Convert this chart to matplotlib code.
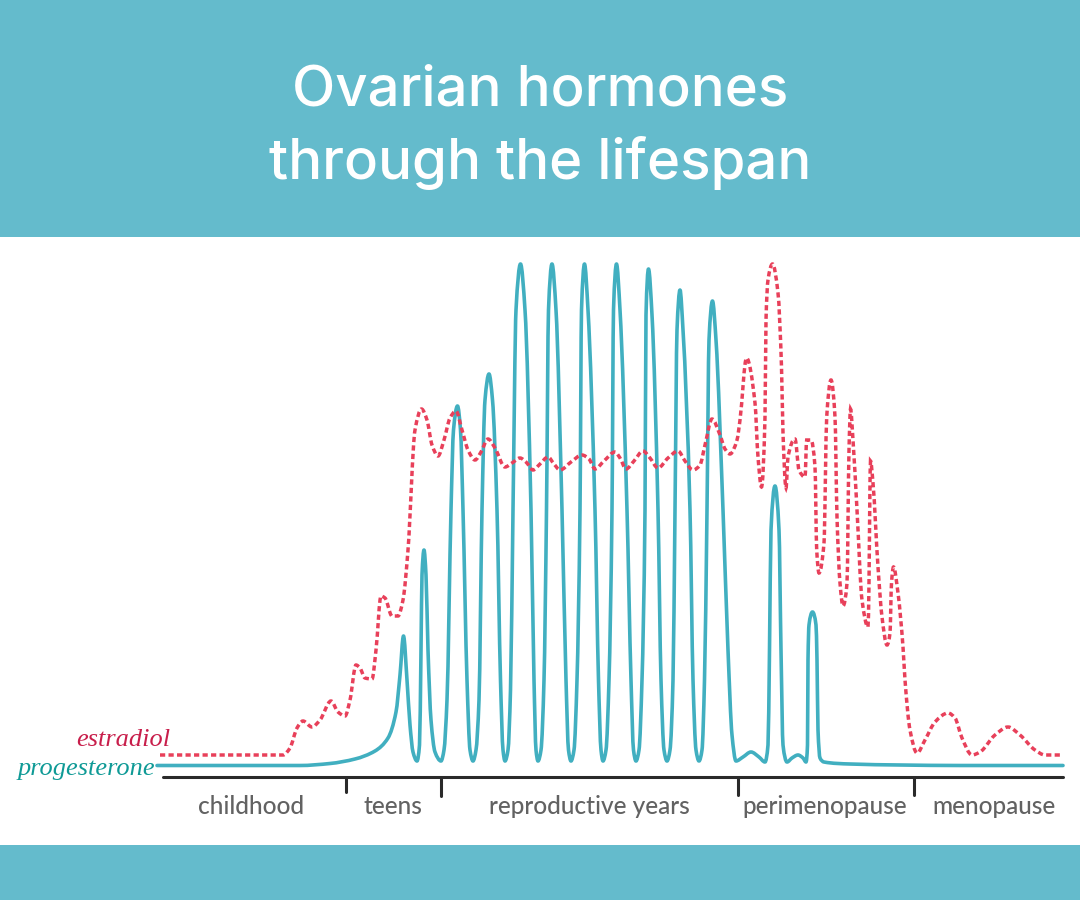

import matplotlib
matplotlib.use("Agg")
import matplotlib.pyplot as plt
import numpy as np
from matplotlib.patches import PathPatch, Rectangle
from matplotlib.path import Path

BAND = "#64BBCC"
TEAL = "#41AFC0"
RED = "#E8405A"

TITLE_LINES = ["Ovarian hormones", "through the lifespan"]
STAGES = ["childhood", "teens", "reproductive years", "perimenopause", "menopause"]
STAGE_X = [251, 393, 589, 825, 994]
STAGE_TICKS = [346, 441, 738, 914]
STAGE_TICK_END = [792, 796, 795, 795]

PROG_X = [157, 300, 330, 355, 375, 388, 396, 400, 403.5, 407, 410, 413, 417,
          419.5, 421, 422, 424, 426, 428, 431, 435, 441,
          444, 447, 451, 453.5, 457.5, 460.5, 463, 467, 470, 473,
          476, 479, 482, 485, 489, 492.5, 497, 500.5, 503, 505,
          508, 510.5, 513, 516, 520.5, 525, 531, 534, 536, 538,
          541, 544, 546.5, 548.5, 552, 556, 562, 566, 568.5, 571,
          574, 577, 580, 581.5, 584.5, 588, 595, 598.5, 601, 603,
          606, 609, 612, 613.5, 616.5, 620, 627, 631, 633.5, 636,
          639, 642, 645, 646, 648.5, 652, 658, 661, 664, 667,
          670, 673, 675, 677, 680, 683, 690, 693, 696, 699,
          702, 704.5, 707, 709, 712.5, 716, 723, 728, 732, 736,
          743, 751, 759, 765,
          768, 769.5, 771, 775, 779, 781, 783, 787,
          792, 798, 803, 806,
          807.5, 808, 809, 812.5, 816, 817, 818, 820, 824,
          850, 900, 960, 1063]
PROG_Y = [765.5, 765.5, 763.5, 759, 751, 738, 712, 675, 636, 680, 725, 752, 761,
          745, 650, 575, 550, 575, 650, 720, 752, 761,
          750, 700, 510, 430, 406, 430, 510, 680, 750, 761,
          750, 700, 510, 400, 374, 400, 510, 680, 750, 761,
          750, 690, 510, 310, 264, 310, 510, 680, 750, 761,
          750, 680, 510, 310, 264, 310, 510, 680, 750, 761,
          750, 680, 510, 310, 264, 310, 510, 680, 750, 761,
          750, 680, 510, 310, 264, 310, 510, 680, 750, 761,
          750, 680, 510, 315, 269, 315, 510, 680, 750, 761,
          750, 680, 510, 330, 290, 330, 510, 680, 750, 761,
          750, 680, 510, 340, 301, 340, 510, 650, 735, 761,
          757, 752, 757, 762,
          745, 650, 530, 486, 530, 650, 745, 762,
          758, 755, 758, 762,
          745, 660, 625, 612, 625, 660, 730, 758, 762,
          764, 765, 765.5, 765.5]

ESTR_X = [160, 283, 290, 297, 303, 312, 320, 331, 338, 345, 350, 356, 360, 365, 372,
          376, 381, 385, 392, 398, 403, 408, 415, 421.5, 427, 432, 438,
          444, 450, 456, 462, 468, 475, 481, 488, 495, 505, 512, 520, 526, 533,
          540, 548, 554, 560, 571, 582, 589, 595, 604, 615, 620, 626, 634, 643,
          650, 658, 668, 678, 685, 693, 700, 705, 712, 720, 725, 730,
          737, 740, 746.5, 755, 758, 761.5, 765, 766, 768, 772.5, 778, 781.5, 783,
          786, 788, 795, 799, 805, 806.7, 811, 815, 816.7, 819,
          824, 826.7, 831, 835, 837, 840, 843, 847, 849, 850.5, 853, 857, 862, 868,
          869, 869.8, 870.5, 873, 878, 882, 887, 890, 891.5, 893.5, 898, 903,
          905, 910, 917, 925, 935, 948, 955, 962, 972, 980, 995, 1008, 1020, 1035, 1045, 1063]
ESTR_Y = [755, 755, 748, 728, 721, 727, 720, 701, 712, 716, 700, 665, 668, 678, 679,
          650, 596, 598, 616, 616, 600, 550, 430, 409, 420, 445, 456,
          440, 418, 411, 430, 450, 460, 452, 439, 448, 467, 463, 458, 462, 470,
          464, 457, 464, 470, 462, 455, 459, 469, 461, 452, 458, 469, 461, 451,
          458, 468, 458, 451, 461, 470, 465, 445, 419, 435, 449, 454,
          440, 420, 358, 403, 457, 487, 417, 320, 280, 264, 293, 367, 433,
          488, 457, 439, 470, 477, 440, 440, 467, 550, 573,
          543, 417, 380, 417, 517, 583, 606, 583, 450, 409, 440, 510, 600, 627,
          583, 500, 461, 483, 567, 617, 645, 633, 583, 567, 593, 647,
          680, 730, 753, 740, 722, 713, 718, 738, 755, 752, 735, 727, 735, 750, 755, 755]


def smooth_path(xs, ys):
    # monotone cubic through the knots, written as Bezier segments so no overshoot
    x = np.asarray(xs, float)
    y = np.asarray(ys, float)
    h = np.diff(x)
    d = np.diff(y) / h
    m = np.zeros_like(x)
    for i in range(1, len(x) - 1):
        if d[i - 1] * d[i] > 0:
            w1, w2 = 2 * h[i] + h[i - 1], h[i] + 2 * h[i - 1]
            m[i] = (w1 + w2) / (w1 / d[i - 1] + w2 / d[i])
    verts = [(x[0], y[0])]
    codes = [Path.MOVETO]
    for i in range(len(x) - 1):
        verts += [(x[i] + h[i] / 3, y[i] + m[i] * h[i] / 3),
                  (x[i + 1] - h[i] / 3, y[i + 1] - m[i + 1] * h[i] / 3),
                  (x[i + 1], y[i + 1])]
        codes += [Path.CURVE4] * 3
    return Path(verts, codes)


def main():
    fig = plt.figure(figsize=(10.8, 9), dpi=100, facecolor="white")
    ax = fig.add_axes([0, 0, 1, 1])
    ax.set_xlim(0, 1080)
    ax.set_ylim(900, 0)
    ax.axis("off")

    ax.add_patch(Rectangle((0, 0), 1080, 237, color=BAND, lw=0))
    ax.add_patch(Rectangle((0, 845), 1080, 55, color=BAND, lw=0))
    for line, y in zip(TITLE_LINES, [91, 163]):
        ax.text(540, y, line, color="white", fontsize=40.6, family="Inter",
                fontweight="medium", ha="center", va="center")

    ax.add_patch(PathPatch(smooth_path(PROG_X, PROG_Y), fc="none", ec=TEAL, lw=2.6,
                           capstyle="round", joinstyle="round"))
    ax.add_patch(PathPatch(smooth_path(ESTR_X, ESTR_Y), fc="none", ec=RED, lw=2.5,
                           linestyle=(0, (1.5, 0.95)), capstyle="butt"))

    ax.plot([163, 1063], [776.5, 776.5], color="#2a2a2a", lw=2.2, solid_capstyle="round")
    for x, y1 in zip(STAGE_TICKS, STAGE_TICK_END):
        ax.plot([x, x], [777, y1], color="#2a2a2a", lw=2.2, solid_capstyle="round")
    for label, x in zip(STAGES, STAGE_X):
        ax.text(x, 806, label, color="#626262", fontsize=17.6, family="Lato",
                ha="center", va="center", fontweight="medium")

    ax.text(170, 746, "estradiol", color="#C81E4B", fontsize=19, family="Liberation Serif",
            style="italic", ha="right", va="baseline")
    ax.text(155, 775, "progesterone", color="#0F9A96", fontsize=19, family="Liberation Serif",
            style="italic", ha="right", va="baseline")

    fig.savefig("out.png", dpi=100)


if __name__ == "__main__":
    main()
